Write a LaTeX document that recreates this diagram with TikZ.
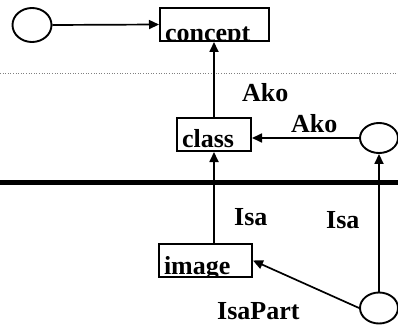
\documentclass[tikz,border=0pt]{standalone}
\usepackage{fontspec}
\setmainfont{Liberation Serif}
\usetikzlibrary{shapes.geometric, arrows.meta, positioning, calc}

\begin{document}
\begin{tikzpicture}[
    x=1pt, y=-1pt,
    every node/.style={font=\fontsize{26}{30}\selectfont\bfseries},
    conn/.style={line width=1.7pt, -{Triangle[length=10pt, width=9pt]}},
    boxtext/.style={anchor=base west, inner sep=0pt, minimum width=0pt, minimum height=0pt, draw=none},
    box/.style 2 args={rectangle, draw, line width=2pt, minimum height=33pt, inner sep=0pt,
        path picture={\node[boxtext] at ([shift={(4pt,#2)}]path picture bounding box.south west) {#1};}},
    ell/.style={ellipse, draw, line width=1.9pt, inner sep=0pt, minimum width=38pt, minimum height=31pt},
    lbl/.style={anchor=base west, inner sep=0pt},
]
\useasboundingbox (0,0) rectangle (398,331);

% separators
\draw[gray, dotted, line width=0.6pt] (0,73) -- (398,73);
\draw[line width=5pt] (0,182) -- (398,182);

% boxes
\node[box={concept}{-1pt}, minimum width=109pt] (concept) at (214.5,24.5) {};
\node[box={class}{4pt}, minimum width=74pt] (class) at (214,134.5) {};
\node[box={image}{3pt}, minimum width=93pt] (image) at (205.5,260.5) {};

% ellipses
\node[ell, minimum width=39pt, minimum height=34pt] (top) at (32,25) {};
\node[ell, minimum height=30pt] (mid) at (379,138) {};
\node[ell] (bot) at (379,308) {};

% links
\draw[conn] (top.east) -- (concept.west);
\draw[conn] (class.north) -- (class.north |- concept.south);
\draw[conn] (image.north -| class.south) -- (class.south);
\draw[conn] (mid.west) -- (mid.west -| class.east);
\draw[conn] (bot.north) -- (mid.south);
\draw[conn] (bot.west) -- (image.east);

% labels
\node[lbl] (ako1) at (242,102) {Ako};
\node[lbl] (ako2) at (291,133) {Ako};
\node[lbl] (isa1) at (234,225) {Isa};
\node[lbl] (isa2) at (326,228) {Isa};
\node[lbl] (isapart) at (217,319) {IsaPart};

\end{tikzpicture}
\end{document}
